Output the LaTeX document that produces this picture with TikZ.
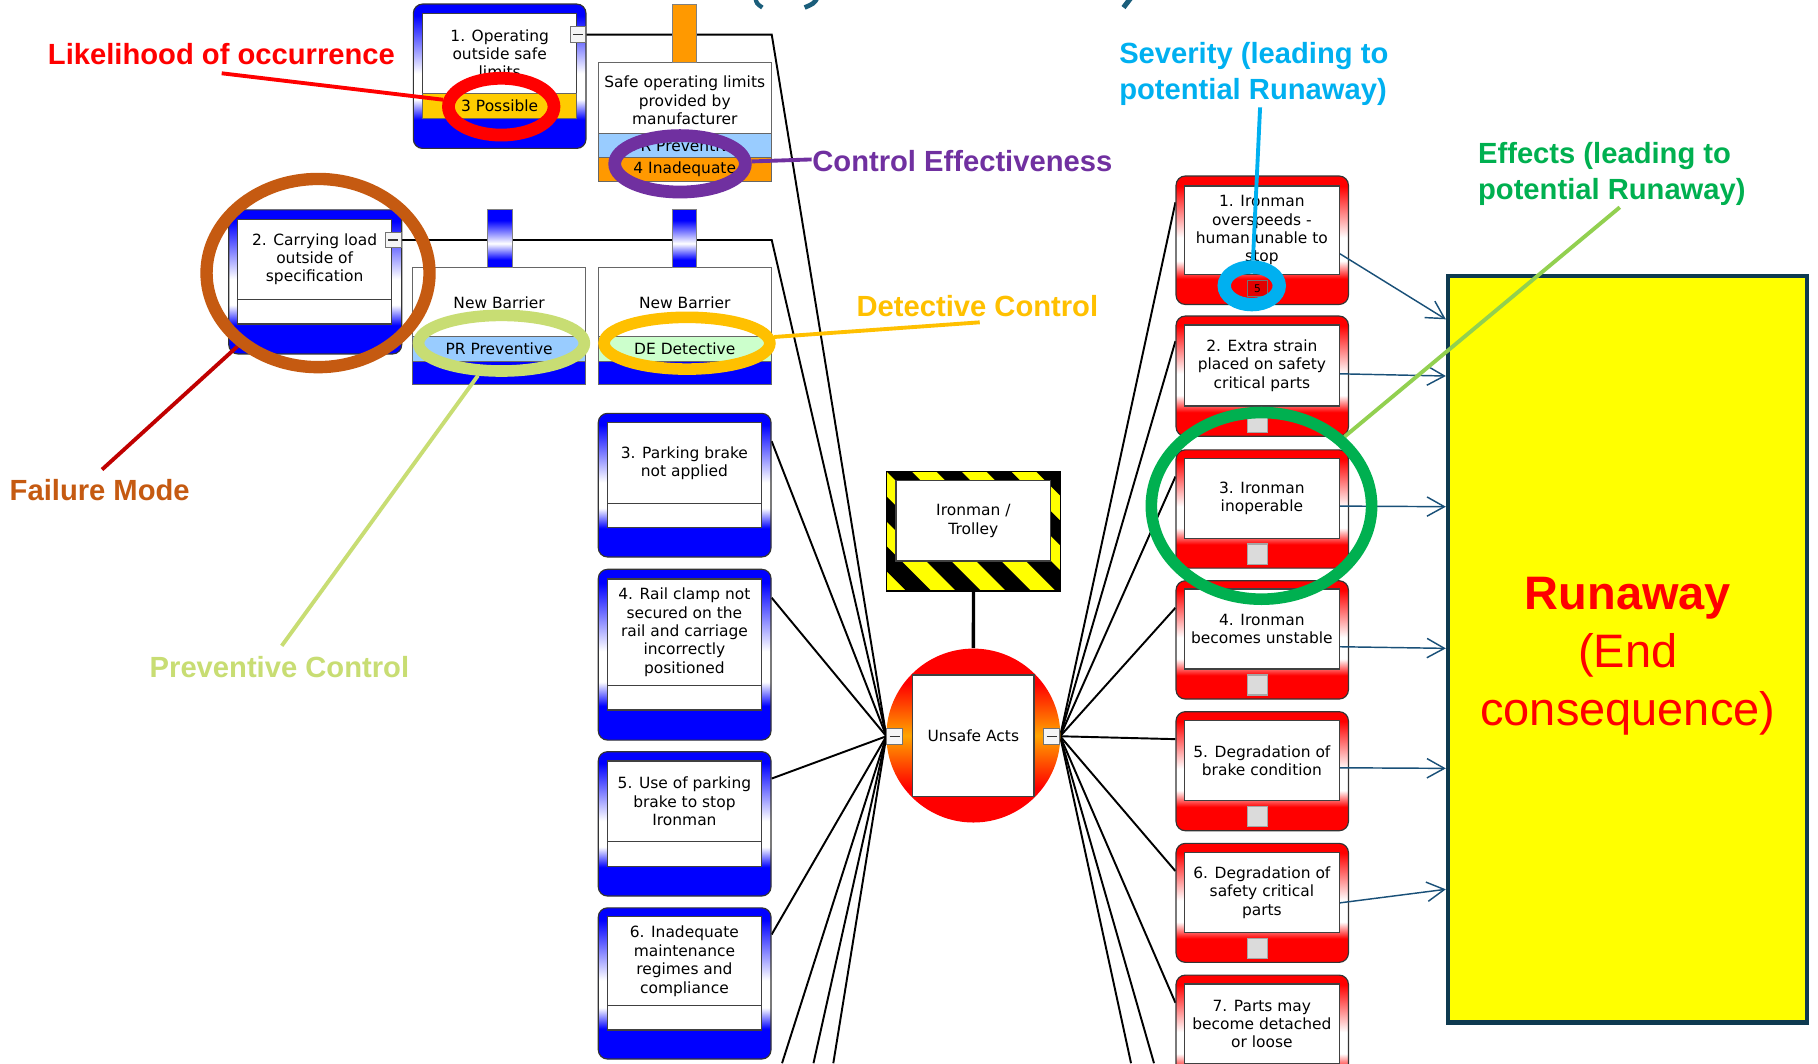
\documentclass[tikz,border=0pt]{standalone}
\usepackage{fontspec}
\setmainfont{DejaVu Sans}
\newfontfamily\annfont{Liberation Sans}
\usetikzlibrary{shapes.geometric,arrows.meta,calc}
\pgfdeclarelayer{bg}
\pgfdeclarelayer{ptr}
\pgfdeclarelayer{top}
\pgfsetlayers{bg,main,ptr,top}
\definecolor{fmblue}{RGB}{0,0,255}
\definecolor{fmred}{RGB}{255,0,0}
\definecolor{uaorange}{RGB}{255,165,0}
\definecolor{barorange}{RGB}{255,153,0}
\definecolor{lbluebar}{RGB}{153,204,255}
\definecolor{possible}{RGB}{255,204,0}
\definecolor{detgreen}{RGB}{204,255,204}
\definecolor{hazyellow}{RGB}{255,255,0}
\definecolor{sevred}{RGB}{226,0,0}
\definecolor{annred}{RGB}{255,0,0}
\definecolor{annpurple}{RGB}{112,48,160}
\definecolor{anncyan}{RGB}{0,176,240}
\definecolor{anngreen}{RGB}{0,176,80}
\definecolor{annlime}{RGB}{146,208,80}
\definecolor{annorange}{RGB}{255,192,0}
\definecolor{annbrown}{RGB}{197,90,17}
\definecolor{anndred}{RGB}{192,0,0}
\definecolor{annpale}{RGB}{200,221,115}
\definecolor{navy}{RGB}{14,58,80}
\definecolor{arrowblue}{RGB}{25,80,120}
\definecolor{titleteal}{RGB}{27,94,123}
\pgfdeclareverticalshading{bluefm}{100bp}{color(0bp)=(fmblue); color(35bp)=(fmblue); color(42bp)=(white); color(51bp)=(white); color(71bp)=(fmblue); color(100bp)=(fmblue)}
\pgfdeclareverticalshading{redfm}{100bp}{color(0bp)=(fmred); color(35bp)=(fmred); color(42bp)=(white); color(51bp)=(white); color(71bp)=(fmred); color(100bp)=(fmred)}
\pgfdeclareverticalshading{circgrad}{100bp}{color(0bp)=(fmred); color(35bp)=(fmred); color(50bp)=(uaorange); color(65bp)=(fmred); color(100bp)=(fmred)}
\pgfdeclareverticalshading{tabgrad}{100bp}{color(0bp)=(fmblue); color(32bp)=(fmblue); color(46bp)=(white); color(66bp)=(fmblue); color(100bp)=(fmblue)}
% box node from corner (x1,y1) to (x2,y2) in picture units
\newcommand{\mkbox}[7]{%
  \node[#1, minimum width={(#5-#3)*0.6pt}, minimum height={(#6-#4)*0.6pt}]
    (#2) at ({(#3+#5)/2},{(#4+#6)/2}) {#7};}
\begin{document}
\begin{tikzpicture}[x=0.6pt, y=-0.6pt,
  font=\fontsize{8}{9.5}\selectfont,
  outerblue/.style={draw=black!80, line width=0.6pt, rounded corners=4.8pt, shading=bluefm, inner sep=0pt},
  outerred/.style={draw=black!80, line width=0.6pt, rounded corners=4.8pt, shading=redfm, inner sep=0pt},
  innerw/.style={draw=black!75, fill=white, line width=0.6pt, inner sep=0pt, align=center},
  barbox/.style={draw=black!60, line width=0.5pt, inner sep=0pt, align=center},
  tabbox/.style={draw=black!50, line width=0.5pt, inner sep=0pt},
  wire/.style={draw=black, line width=1pt},
  arr/.style={draw=arrowblue, line width=0.75pt, -{Straight Barb[length=9pt,width=10pt]}},
  minusbtn/.style={draw=black!55, fill=black!4, line width=0.5pt, inner sep=0pt, minimum width=8.2pt, minimum height=8pt,
    path picture={\draw[black!80, line width=0.6pt] ([xshift=-2.6pt]path picture bounding box.center) -- ([xshift=2.6pt]path picture bounding box.center);}},
  sevsq/.style={draw=black!35, fill=black!14, line width=0.6pt, minimum width=10.4pt, minimum height=10.4pt, inner sep=0pt},
  ring/.style={ellipse, inner sep=0pt},
  ann/.style={font=\annfont\bfseries\fontsize{15.1}{18.8}\selectfont, inner sep=0pt},
  pointer/.style={line width=2pt}
]
\useasboundingbox (0,0) rectangle (1568,917);
\clip (0,0) rectangle (1568,917);
\begin{pgfonlayer}{bg}
\fill[white] (0,0) rectangle (1568,917);
\end{pgfonlayer}

% ---------- title fragments ----------
\draw[titleteal, line width=2.2pt] (651.5,-2) .. controls (652.5,3) .. (657.5,6.5);
\draw[titleteal, line width=2.4pt] (705,-2) .. controls (702,3) .. (694,6.5);
\draw[titleteal, line width=2.6pt] (975.5,-2) -- (969,6.5);

% ---------- left failure modes ----------
\mkbox{outerblue}{fm1}{356.5}{3.5}{505.4}{128}{}
\mkbox{innerw}{fm1t}{364.6}{11.5}{497.4}{81}{1. Operating\\outside safe\\limits}
\mkbox{barbox, fill=possible}{fm1b}{364.6}{81}{497.4}{102}{3 Possible}
\node[minusbtn] (fm1m) at (498.5,29.8) {};

\mkbox{outerblue}{fm2}{197.3}{181}{346.5}{305.3}{}
\mkbox{innerw}{fm2t}{204.8}{189}{338}{258}{2. Carrying load\\outside of\\specification}
\mkbox{innerw}{fm2b}{204.8}{258}{338}{279.5}{}
\node[minusbtn] (fm2m) at (339.3,207) {};

\mkbox{outerblue}{fm3}{516}{356.5}{665}{480.4}{}
\mkbox{innerw}{fm3t}{523.6}{364.6}{657}{434}{3. Parking brake\\not applied}
\mkbox{innerw}{fm3b}{523.6}{434}{657}{454.8}{}

\mkbox{outerblue}{fm4}{516}{491}{665}{638.3}{}
\mkbox{innerw}{fm4t}{523.6}{499.4}{657}{591.4}{4. Rail clamp not\\secured on the\\rail and carriage\\incorrectly\\positioned}
\mkbox{innerw}{fm4b}{523.6}{591.4}{657}{612.4}{}

\mkbox{outerblue}{fm5}{516}{648.3}{665}{772.8}{}
\mkbox{innerw}{fm5t}{523.6}{656.4}{657}{726}{5. Use of parking\\brake to stop\\Ironman}
\mkbox{innerw}{fm5b}{523.6}{726}{657}{747}{}

\mkbox{outerblue}{fm6}{516}{783}{665}{913.4}{}
\mkbox{innerw}{fm6t}{523.6}{790.7}{657}{867.4}{6. Inadequate\\maintenance\\regimes and\\compliance}
\mkbox{innerw}{fm6b}{523.6}{867.4}{657}{888.4}{}

% ---------- barriers ----------
\mkbox{barbox, fill=white}{b1t}{515.8}{53.5}{665.4}{114.7}{\rule{0pt}{9.2pt}Safe operating limits\\provided by\\manufacturer}
\mkbox{barbox, fill=lbluebar}{b1p}{515.8}{114.7}{665.4}{136}{PR Preventive}
\mkbox{barbox, fill=barorange}{b1e}{515.8}{136}{665.4}{156.7}{4 Inadequate}

\mkbox{barbox, fill=white}{bAt}{356}{231}{505}{290.4}{New Barrier}
\mkbox{barbox, fill=lbluebar}{bAp}{356}{290.4}{505}{311.4}{PR Preventive}
\mkbox{barbox, fill=fmblue}{bAe}{356}{311.4}{505}{332}{}

\mkbox{barbox, fill=white}{bBt}{515.8}{231}{665.4}{290.4}{New Barrier}
\mkbox{barbox, fill=detgreen}{bBp}{515.8}{290.4}{665.4}{311.4}{DE Detective}
\mkbox{barbox, fill=fmblue}{bBe}{515.8}{311.4}{665.4}{332}{}

% ---------- hazard & top event ----------
\mkbox{draw=black, line width=0.6pt, fill=hazyellow, inner sep=0pt}{haz}{764.8}{406.8}{914.3}{509.7}{}
\begin{scope}
\clip (764.8,406.8) rectangle (914.3,509.7);
\foreach \k in {-3,...,4} {
  \fill[black] (764.8+\k*43,406.8) -- ++(21.5,0) -- ++(110,110) -- ++(-21.5,0) -- cycle;
}
\end{scope}
\draw[black, line width=0.6pt] (764.8,406.8) rectangle (914.3,509.7);
\mkbox{innerw}{hazt}{772.8}{414.6}{906.2}{483.9}{Ironman /\\Trolley}

\node[circle, shading=circgrad, minimum size=90pt, inner sep=0pt] (ua) at (839.5,634.4) {};
\mkbox{innerw}{uat}{787.2}{582.2}{891.8}{687.2}{Unsafe Acts}
\node[minusbtn] (ual) at (771.7,635) {};
\node[minusbtn] (uar) at (907.1,635) {};

% ---------- consequences ----------
\mkbox{outerred}{r1}{1014.3}{151.8}{1163}{262.6}{}
\mkbox{innerw}{r1t}{1021.5}{160.4}{1155.2}{236.6}{1. Ironman\\overspeeds -\\human unable to\\stop}
\node[sevsq, fill=sevred, draw=black!55, minimum height=8.3pt, font=\fontsize{5.5}{6}\selectfont] (r1s) at (1084.6,249) {5};

\mkbox{outerred}{r2}{1014.3}{272.6}{1163}{376.2}{}
\mkbox{innerw}{r2t}{1021.5}{280.3}{1155.2}{350.2}{2. Extra strain\\placed on safety\\critical parts}
\node[sevsq] (r2s) at (1084.6,364) {};

\mkbox{outerred}{r3}{1014.3}{388}{1163}{490}{}
\mkbox{innerw}{r3t}{1021.5}{395.1}{1155.2}{464.1}{3. Ironman\\inoperable}
\node[sevsq] (r3s) at (1084.6,477.9) {};

\mkbox{outerred}{r4}{1014.3}{500.9}{1163}{602.9}{}
\mkbox{innerw}{r4t}{1021.5}{508}{1155.2}{577}{4. Ironman\\becomes unstable}
\node[sevsq] (r4s) at (1084.6,590.8) {};

\mkbox{outerred}{r5}{1014.3}{613.8}{1163}{716.5}{}
\mkbox{innerw}{r5t}{1021.5}{621.6}{1155.2}{690.6}{5. Degradation of\\brake condition}
\node[sevsq] (r5s) at (1084.6,704.4) {};

\mkbox{outerred}{r6}{1014.3}{727.4}{1163}{830}{}
\mkbox{innerw}{r6t}{1021.5}{735.2}{1155.2}{804.2}{6. Degradation of\\safety critical\\parts}
\node[sevsq] (r6s) at (1084.6,818) {};

\mkbox{outerred}{r7}{1014.3}{841}{1163}{943.6}{}
\mkbox{innerw}{r7t}{1021.5}{848.7}{1155.2}{917.7}{7. Parts may\\become detached\\or loose}

% ---------- end consequence ----------
\mkbox{draw=navy, line width=2.4pt, fill=hazyellow, inner sep=0pt}{run}{1249}{238}{1558.5}{882}{}
\node[font=\annfont\fontsize{24.3}{30}\selectfont, text=annred, align=center, inner sep=0pt] (runt) at (1404,566) {{\bfseries Runaway}\\(End\\consequence)};

% ---------- tabs ----------
\mkbox{tabbox, fill=barorange}{t1}{580}{3.5}{600.7}{53.5}{}
\mkbox{tabbox, shading=tabgrad}{tA}{420.7}{181}{441.6}{231}{}
\mkbox{tabbox, shading=tabgrad}{tB}{580}{181}{600.7}{231}{}

% ---------- connectors ----------
\begin{pgfonlayer}{bg}
\coordinate (k1) at (665.6,29.8);
\coordinate (k2) at (665.6,207);
\draw[wire] (fm1m.east) -- (k1) -- (ual.west);
\draw[wire] (fm2m.east) -- (k2) -- (ual.west);
\draw[wire] ($(fm3.north east)+(0,24.5)$) -- (ual.west);
\draw[wire] ($(fm4.north east)+(0,25)$) -- (ual.west);
\draw[wire] ($(fm5.north east)+(0,23.7)$) -- (ual.west);
\draw[wire] ($(fm6.north east)+(0,23.5)$) -- (ual.west);
\coordinate (lo1) at (674.5,917);
\coordinate (lo2) at (701.6,917);
\coordinate (lo3) at (718.7,917);
\draw[wire] (ual.west) -- (lo1);
\draw[wire] (ual.west) -- (lo2);
\draw[wire] (ual.west) -- (lo3);
\draw[wire] (uar.east) -- ($(r1.north west)+(0,23.2)$);
\draw[wire] (uar.east) -- ($(r2.north west)+(0,22.1)$);
\draw[wire] (uar.east) -- ($(r3.north west)+(0,23.5)$);
\draw[wire] (uar.east) -- ($(r4.north west)+(0,23.8)$);
\draw[wire] (uar.east) -- ($(r5.north west)+(0,24.2)$);
\draw[wire] (uar.east) -- ($(r6.north west)+(0,24.4)$);
\draw[wire] (uar.east) -- ($(r7.north west)+(0,24.4)$);
\coordinate (ro1) at (975.5,917);
\coordinate (ro2) at (995.3,917);
\draw[wire] (uar.east) -- (ro1);
\draw[wire] (uar.east) -- (ro2);
\draw[line width=1.7pt] (haz.south) -- (ua.north);
\end{pgfonlayer}

\draw[arr] ($(r1t.north east)+(0,59)$) -- ($(run.north west)+(0,39.4)$);
\draw[arr] ($(r2t.north east)+(0,42.6)$) -- ($(run.north west)+(0,88.3)$);
\draw[arr] ($(r3t.north east)+(0,41.9)$) -- ($(run.north west)+(0,201)$);
\draw[arr] ($(r4t.north east)+(0,50.3)$) -- ($(run.north west)+(0,323.2)$);
\draw[arr] ($(r5t.north east)+(0,41.1)$) -- ($(run.north west)+(0,426.7)$);
\draw[arr] ($(r6t.north east)+(0,44)$) -- ($(run.north west)+(0,531)$);

% ---------- annotations ----------
\begin{pgfonlayer}{top}
\node[ring, draw=annred, line width=6.6pt, minimum width=54.6pt, minimum height=29.4pt] (elik) at (432.3,92) {};
\node[ring, draw=annpurple, line width=6.6pt, minimum width=67.6pt, minimum height=29.2pt] (epur) at (586.5,141.3) {};
\node[ring, draw=annpale, line width=6pt, minimum width=85.8pt, minimum height=28.8pt] (eprev) at (432.5,296) {};
\node[ring, draw=annorange, line width=6pt, minimum width=85.8pt, minimum height=26.8pt] (edet) at (592.5,296) {};
\node[ring, draw=annbrown, line width=6.4pt, minimum width=115.4pt, minimum height=97.4pt] (efm) at (274.3,235.5) {};
\node[ring, draw=anncyan, line width=6.9pt, minimum width=28.5pt, minimum height=19.5pt] (esev) at (1079.6,246.5) {};
\node[ring, draw=anngreen, line width=6pt, minimum width=114pt, minimum height=96.6pt] (eeff) at (1088,436.3) {};

\node[ann, text=annred, anchor=base] (llik) at (191,56) {Likelihood of occurrence};
\node[ann, text=annpurple, anchor=base west] (lctl) at (700.3,148.1) {Control Effectiveness};
\node[ann, text=anncyan, anchor=north west, align=left] (lsev) at (965,36.2) {Severity (leading to\\potential Runaway)};
\node[ann, text=anngreen, anchor=north west, align=left] (leff) at (1274.5,122.5) {Effects (leading to\\potential Runaway)};
\node[ann, text=annorange, anchor=base] (ldet) at (843,273) {Detective Control};
\node[ann, text=annbrown, anchor=base] (lfm) at (86,432) {Failure Mode};
\node[ann, text=annpale, anchor=base] (lprev) at (241,584) {Preventive Control};
\end{pgfonlayer}

\begin{pgfonlayer}{ptr}
\coordinate (plik) at (191.2,63.2);
\coordinate (pctl) at (700,137.5);
\coordinate (psev) at (1086.8,92.6);
\coordinate (peff) at (1397,178.8);
\coordinate (pdet) at (845,278);
\coordinate (pfm) at (88,405);
\coordinate (pprev) at (243,557);
\draw[pointer, draw=annred] (plik) -- (elik);
\draw[pointer, draw=annpurple] (epur) -- (pctl);
\draw[pointer, draw=anncyan] (psev) -- (esev);
\draw[pointer, draw=annlime] (peff) -- (eeff);
\draw[pointer, draw=annorange] (edet) -- (pdet);
\draw[pointer, draw=anndred] (efm) -- (pfm);
\draw[pointer, draw=annpale] (eprev) -- (pprev);
\end{pgfonlayer}
\end{tikzpicture}
\end{document}
